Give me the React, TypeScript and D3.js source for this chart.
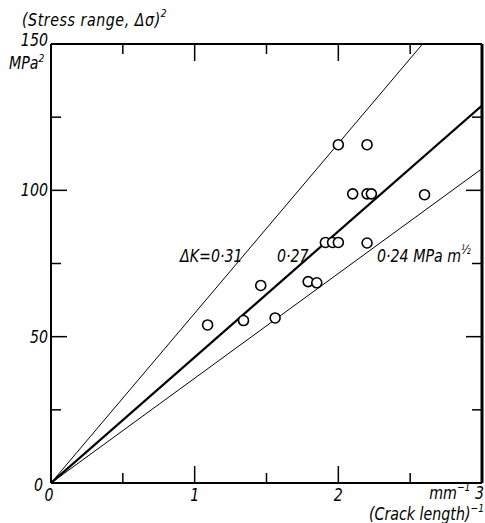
import React from "react";
import * as d3 from "d3";

const crackInv = [1.09, 1.34, 1.46, 1.56, 1.79, 1.85, 1.91, 1.96, 2.0, 2.2, 2.0, 2.2, 2.1, 2.2, 2.23, 2.6];
const stressSq = [54, 55.5, 67.5, 56.4, 68.8, 68.4, 82.2, 82.2, 82.2, 82.0, 115.6, 115.6, 98.8, 98.8, 98.8, 98.5];
const lineSlopes = [58, 43, 35.8];
const lineWidths = [1, 2.2, 1];
const xTicks = [0.5, 1, 1.5, 2, 2.5];
const yTicks = [25, 50, 75, 100, 125];
const xLabels = ["0", "1", "2"];
const yLabels = ["50", "100", "150"];

const W = 485, H = 523;
const FONT = "'DejaVu Sans Condensed', 'DejaVu Sans', sans-serif";
const SX = 0.93;

function T({ x, y, anchor = "start", size = 17, spacing = 0, children }: { x: number; y: number; anchor?: string; size?: number; spacing?: number; children: React.ReactNode }) {
  return (
    <g transform={`translate(${x},${y}) scale(${SX},1)`}>
      <text x={0} y={0} textAnchor={anchor as any} fontFamily={FONT} fontStyle="italic" fontSize={size} letterSpacing={spacing} fill="#000">
        {children}
      </text>
    </g>
  );
}

export default function App() {
  const x = d3.scaleLinear().domain([0, 3]).range([51, 482]);
  const y = d3.scaleLinear().domain([0, 150]).range([483, 44]);
  const [x0, x1] = x.range();
  const [y0, y1] = y.range();
  const lineGen = d3.line<[number, number]>().x(d => x(d[0])).y(d => y(d[1]));

  return (
    <svg width={W} height={H} style={{ position: "absolute", left: 0, top: 0, background: "#fff" }}>
      <defs>
        <clipPath id="plot">
          <rect x={x0} y={y1} width={x1 - x0} height={y0 - y1} />
        </clipPath>
      </defs>
      <g clipPath="url(#plot)">
        {lineSlopes.map((s, i) => (
          <path key={i} d={lineGen([[0, 0], [3, s * 3]]) || ""} stroke="#000" strokeWidth={lineWidths[i]} fill="none" />
        ))}
      </g>
      {crackInv.map((cx, i) => (
        <circle key={i} cx={x(cx)} cy={y(stressSq[i])} r={5} fill="#fff" stroke="#000" strokeWidth={1.6} />
      ))}
      <line x1={x0} y1={y1} x2={x1} y2={y1} stroke="#000" strokeWidth={2} />
      <line x1={x0} y1={y0} x2={x1} y2={y0} stroke="#000" strokeWidth={2} />
      <line x1={x0} y1={y1} x2={x0} y2={y0} stroke="#000" strokeWidth={2} />
      <line x1={x1} y1={y1} x2={x1} y2={y0} stroke="#000" strokeWidth={3} />
      {xTicks.map(t => {
        const len = t % 1 === 0 ? 17 : 10;
        return (
          <g key={"xt" + t}>
            <line x1={x(t)} x2={x(t)} y1={y0} y2={y0 - len} stroke="#000" strokeWidth={1.5} />
            <line x1={x(t)} x2={x(t)} y1={y1} y2={y1 + len} stroke="#000" strokeWidth={1.5} />
          </g>
        );
      })}
      {yTicks.map(t => {
        const len = t % 50 === 0 ? 16 : 10;
        return (
          <g key={"yt" + t}>
            <line x1={x0} x2={x0 + len} y1={y(t)} y2={y(t)} stroke="#000" strokeWidth={1.5} />
            <line x1={x1} x2={x1 - len} y1={y(t)} y2={y(t)} stroke="#000" strokeWidth={1.5} />
          </g>
        );
      })}
      {yLabels.map(l => (
        <T key={l} x={x0 - 3} y={l === "150" ? 46 : y(+l) + 6} anchor="end">{l}</T>
      ))}
      <T x={x0 - 8} y={y(0) + 8} anchor="end">0</T>
      <T x={9} y={69}>MPa<tspan fontSize={11} dy={-7}>2</tspan></T>
      <T x={22} y={26} spacing={0.6}>(Stress range, Δσ)<tspan fontSize={11} dy={-9}>2</tspan></T>
      {xLabels.map(l => (
        <T key={l} x={x(+l) - (l === "0" ? 2 : 0)} y={501} anchor="middle">{l}</T>
      ))}
      <T x={x1 + 2} y={499} anchor="end">mm<tspan fontSize={11} dy={-8}>−1</tspan><tspan dy={8}> 3</tspan></T>
      <T x={x1 + 2} y={520} anchor="end">(Crack length)<tspan fontSize={11} dy={-8}>−1</tspan></T>
      <T x={180} y={262}>ΔK=0·31</T>
      <T x={277} y={262}>0·27</T>
      <T x={377} y={262}>0·24 MPa m<tspan fontSize={12} dy={-8}>½</tspan></T>
    </svg>
  );
}
